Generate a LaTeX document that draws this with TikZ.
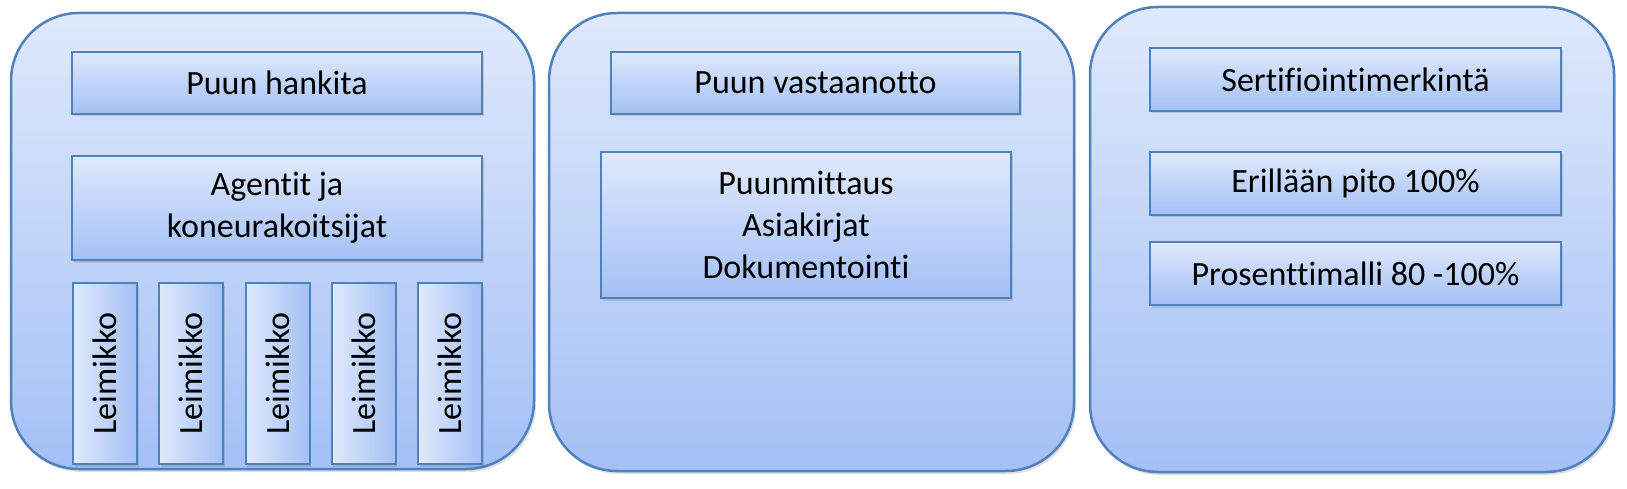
\documentclass[tikz,border=0pt]{standalone}
\usepackage{fontspec}
\setmainfont{Carlito}[Ligatures=NoCommon]
\usepackage{graphicx}
\usetikzlibrary{shadows}

\definecolor{rimblue}{RGB}{79,129,189}
\definecolor{toplight}{RGB}{223,233,252}
\definecolor{botblue}{RGB}{163,192,245}

\begin{document}
\begin{tikzpicture}[x=1pt, y=-1pt,
  panel/.style={draw=rimblue, line width=2.5pt, rounded corners=68pt,
    top color=toplight, bottom color=botblue,
    drop shadow={shadow xshift=2pt, shadow yshift=-3pt, opacity=0.18, fill=black!70}},
  box/.style={draw=rimblue, line width=2pt, inner sep=0pt, align=center,
    top color=toplight, bottom color=botblue,
    minimum width=410pt, minimum height=62pt,
    font=\fontsize{34}{42}\selectfont,
    drop shadow={shadow xshift=1.5pt, shadow yshift=-2.5pt, opacity=0.18, fill=black!70}},
  bar/.style={box, left color=toplight, right color=botblue,
    minimum width=64pt, minimum height=181pt}]

% Page frame
\useasboundingbox (0,0) rectangle (1627,489);

%%%%%%%%%%%%%%%%%%%%%%%%%%%%%%%%%%%%%%%%%%%%%%%%%%%%%%%%%%%%%%%%
% Hankinta
%%%%%%%%%%%%%%%%%%%%%%%%%%%%%%%%%%%%%%%%%%%%%%%%%%%%%%%%%%%%%%%%

% Border
\draw [panel] (11,13) rectangle (534,469);

\node [box] (hankita) at (277,83) {Puun hankita};
\node [box, minimum height=104pt] (agentit) at (277,208) {Agentit ja\\koneurakoitsijat};

% Leimikot
\foreach \i in {0,...,4}
  \node [bar] (leim\i) at (105+86.25*\i,373.5) {\rotatebox{90}{Leimikko}};

%%%%%%%%%%%%%%%%%%%%%%%%%%%%%%%%%%%%%%%%%%%%%%%%%%%%%%%%%%%%%%%%
% Vastaanotto
%%%%%%%%%%%%%%%%%%%%%%%%%%%%%%%%%%%%%%%%%%%%%%%%%%%%%%%%%%%%%%%%

% Border
\draw [panel] (549,13) rectangle (1074,471);

\node [box, minimum width=409pt] (vastaanotto) at (815.5,83) {Puun vastaanotto};
\node [box, minimum height=146pt] (mittaus) at (806,225) {Puunmittaus\\Asiakirjat\\Dokumentointi};

%%%%%%%%%%%%%%%%%%%%%%%%%%%%%%%%%%%%%%%%%%%%%%%%%%%%%%%%%%%%%%%%
% Sertifiointi
%%%%%%%%%%%%%%%%%%%%%%%%%%%%%%%%%%%%%%%%%%%%%%%%%%%%%%%%%%%%%%%%

% Border
\draw [panel] (1090,7) rectangle (1614,472);

\node [box, minimum width=411pt, minimum height=63pt] (merkinta) at (1355.5,79.5) {Sertifiointimerkintä};
\node [box, minimum width=411pt, minimum height=63pt] (erillaan) at (1355.5,183.5) {Erillään pito 100\%};
\node [box, minimum width=411pt, minimum height=63pt] (prosentti) at (1355.5,273.5) {Prosenttimalli 80 -100\%};

\end{tikzpicture}
\end{document}
